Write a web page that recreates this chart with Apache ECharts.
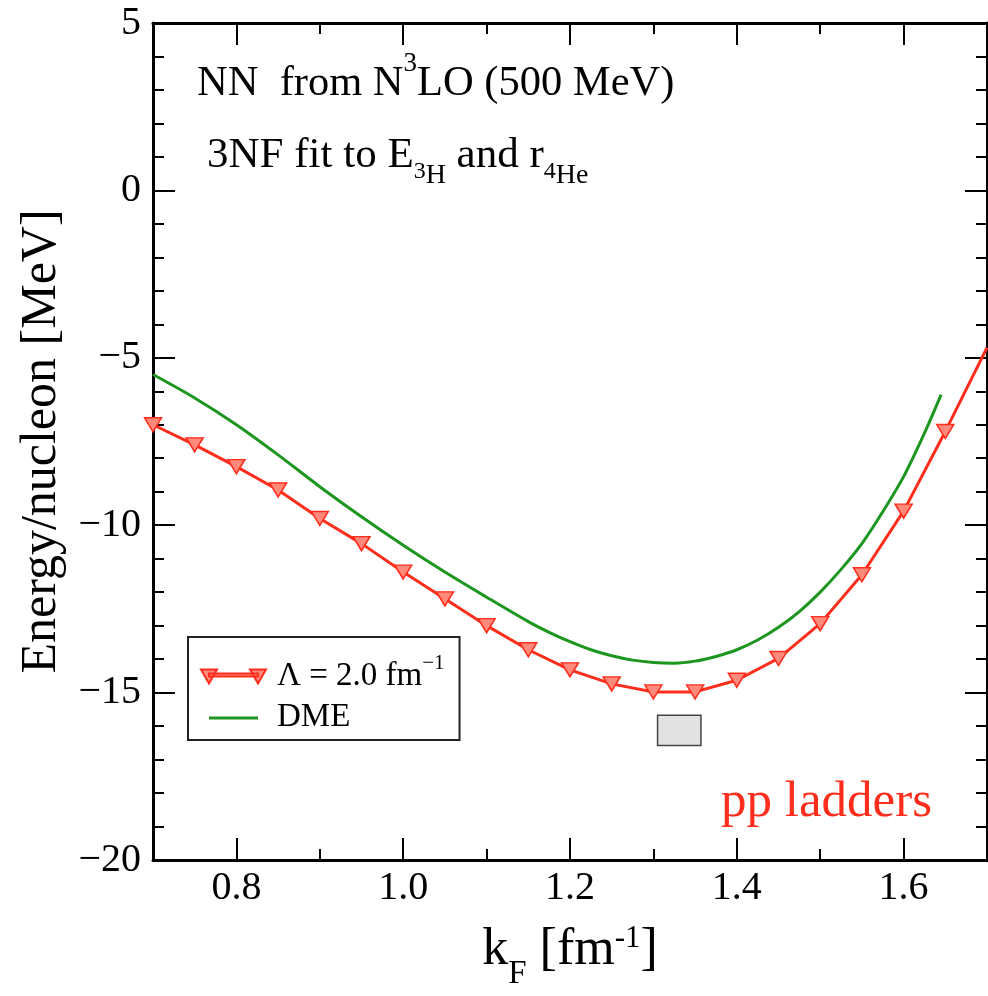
<!DOCTYPE html>
<html>
<head>
<meta charset="utf-8">
<script src="https://cdn.jsdelivr.net/npm/echarts@6/dist/echarts.min.js"></script>
<style>
html, body { margin: 0; padding: 0; background: #fff; }
#chart { width: 988px; height: 996px; }
</style>
</head>
<body>
<div id="chart"></div>
<script>
// pp ladders, Lambda = 2.0 fm^-1 (symbols every 0.05)
var kf_ladder = [0.70, 0.75, 0.80, 0.85, 0.90, 0.95, 1.00, 1.05, 1.10, 1.15, 1.20,
                 1.25, 1.30, 1.35, 1.40, 1.45, 1.50, 1.55, 1.60, 1.65, 1.70];
var e_ladder = [-7.0, -7.6, -8.25, -8.95, -9.8, -10.55, -11.4, -12.2, -13.0, -13.72, -14.32,
                -14.74, -14.98, -14.98, -14.63, -13.98, -12.94, -11.48, -9.58, -7.2, -4.7];
// DME curve
var kf_dme = [0.70, 0.75, 0.80, 0.85, 0.90, 0.95, 1.00, 1.05, 1.10, 1.15, 1.175, 1.20,
              1.225, 1.25, 1.275, 1.30, 1.325, 1.35, 1.375, 1.40, 1.425, 1.45, 1.475,
              1.50, 1.525, 1.55, 1.575, 1.60, 1.625, 1.645];
var e_dme = [-5.5, -6.2, -7.0, -7.9, -8.85, -9.75, -10.6, -11.4, -12.15, -12.88, -13.2, -13.48,
             -13.72, -13.9, -14.03, -14.1, -14.12, -14.06, -13.92, -13.72, -13.43, -13.05, -12.58,
             -12.0, -11.32, -10.55, -9.6, -8.55, -7.25, -6.1];
// empirical saturation box
var box_kf = [1.305, 1.357];
var box_e = [-16.58, -15.68];
// ticks
var xMajor = [0.8, 1.0, 1.2, 1.4, 1.6];
var xMinor = [0.9, 1.1, 1.3, 1.5];

var fontsty = 'Liberation Serif';
var red = '#ff2d1c';
var green = '#1c961e';

var myChart = echarts.init(document.getElementById('chart'));

function pairs(xs, ys) {
  var out = [];
  for (var i = 0; i < xs.length; i++) out.push([xs[i], ys[i]]);
  return out;
}
var ladderData = pairs(kf_ladder, e_ladder).map(function (p, i) {
  // last point sits on the frame edge: no symbol drawn there
  return i === kf_ladder.length - 1 ? { value: p, symbol: 'none' } : { value: p };
});

function xAxisDef(pos, ticks, len, withLine, withLabel) {
  return {
    type: 'value', position: pos, min: 0.7, max: 1.7, interval: 0.1,
    axisLine: { show: withLine, onZero: false, lineStyle: { color: '#000', width: 3 } },
    axisTick: { show: true, inside: true, length: len, customValues: ticks,
                lineStyle: { color: '#000', width: 2 } },
    axisLabel: withLabel ? {
      show: true, customValues: xMajor, margin: 8,
      fontFamily: fontsty, fontSize: 40, color: '#000',
      formatter: function (v) { return v.toFixed(1); }
    } : { show: false },
    splitLine: { show: false }
  };
}

function yAxisDef(pos, withLabel) {
  return {
    type: 'value', position: pos, min: -20, max: 5, interval: 5,
    axisLine: { show: true, onZero: false, lineStyle: { color: '#000', width: 3 } },
    axisTick: { show: true, inside: true, length: 22, lineStyle: { color: '#000', width: 2 } },
    minorTick: { show: true, splitNumber: 5, length: 11, lineStyle: { color: '#000', width: 2 } },
    axisLabel: withLabel ? {
      show: true, margin: 12, fontFamily: fontsty, fontSize: 40, color: '#000',
      formatter: function (v) { return v < 0 ? '\u2212' + Math.abs(v) : String(v); }
    } : { show: false },
    splitLine: { show: false }
  };
}

var xBottom = xAxisDef('bottom', xMajor, 22, true, true);
xBottom.name = 'k{sub|F} [fm{sup|-1}]';
xBottom.nameLocation = 'middle';
xBottom.nameGap = 50;
xBottom.nameTextStyle = {
  fontFamily: fontsty, fontSize: 52, color: '#000',
  rich: {
    sub: { fontFamily: fontsty, fontSize: 33, color: '#000', padding: [48, 0, 0, 0] },
    sup: { fontFamily: fontsty, fontSize: 31, color: '#000', padding: [0, 0, 24, 0] }
  }
};

var yLeft = yAxisDef('left', true);
yLeft.name = 'Energy/nucleon [MeV]';
yLeft.nameLocation = 'middle';
yLeft.nameGap = 86;
yLeft.nameTextStyle = { fontFamily: fontsty, fontSize: 50, color: '#000' };

var option = {
  animation: false,
  backgroundColor: '#fff',
  grid: { left: 153, right: 1, top: 23, bottom: 130, containLabel: false },
  title: [
    {
      text: 'NN  from N{sup|3}LO (500 MeV)', left: 197, top: 50, padding: 0,
      textStyle: {
        fontFamily: fontsty, fontSize: 42.5, fontWeight: 'normal', color: '#000',
        rich: {
          sup: { fontFamily: fontsty, fontSize: 27, color: '#000', padding: [0, 0, 40, 0] }
        }
      }
    },
    {
      text: '3NF fit to E{s1|3}{s2|H} and r{s1|4}{s2|He}', left: 207, top: 122, padding: 0,
      textStyle: {
        fontFamily: fontsty, fontSize: 43, fontWeight: 'normal', color: '#000',
        rich: {
          s1: { fontFamily: fontsty, fontSize: 24, color: '#000', padding: [31, 0, 0, 0] },
          s2: { fontFamily: fontsty, fontSize: 28, color: '#000', padding: [40, 0, 0, 0] }
        }
      }
    },
    {
      text: 'pp ladders', left: 721, top: 777, padding: 0,
      textStyle: { fontFamily: fontsty, fontSize: 51, fontWeight: 'normal', color: red }
    }
  ],
  legend: {
    orient: 'vertical', left: 188, top: 637,
    data: [
      { name: 'Λ = 2.0 fm-1', icon: 'path://M0,0H16L8,14ZM49,0H65L57,14ZM8,4H57V7H8Z' },
      { name: 'DME', icon: 'path://M0,0M8,6H57V9H8ZM65,14' }
    ],
    itemWidth: 65, itemHeight: 14, itemGap: 8,
    padding: [16, 15, 6, 12],
    borderColor: '#222', borderWidth: 2, backgroundColor: '#fff',
    textStyle: {
      fontFamily: fontsty, fontSize: 33, color: '#000', padding: [0, 0, 0, 6],
      rich: {
        t: { fontFamily: fontsty, fontSize: 33, color: '#000' },
        sup: { fontFamily: fontsty, fontSize: 21, color: '#000', padding: [0, 0, 26, 0] }
      }
    },
    formatter: function (name) {
      if (name === 'DME') return '{t|DME}';
      return '{t|Λ = 2.0 fm}{sup|\u22121}';
    }
  },
  xAxis: [
    xBottom,
    xAxisDef('bottom', xMinor, 11, false, false),
    xAxisDef('top', xMajor, 22, true, false),
    xAxisDef('top', xMinor, 11, false, false)
  ],
  yAxis: [
    yLeft,
    yAxisDef('right', false)
  ],
  series: [
    {
      name: 'DME', type: 'line', xAxisIndex: 0, yAxisIndex: 0,
      data: pairs(kf_dme, e_dme), smooth: 0.3,
      symbol: 'none', showSymbol: false,
      itemStyle: { color: green },
      lineStyle: { color: green, width: 3 },
      z: 3
    },
    {
      name: 'Λ = 2.0 fm-1', type: 'line', xAxisIndex: 0, yAxisIndex: 0,
      data: ladderData,
      symbol: 'triangle', symbolRotate: 180, symbolSize: [17, 14],
      itemStyle: { color: '#ff8a7c', borderColor: red, borderWidth: 1.5 },
      lineStyle: { color: red, width: 3 },
      z: 4,
      markArea: {
        silent: true,
        itemStyle: { color: '#e2e2e2', borderColor: '#444', borderWidth: 1.5 },
        data: [[{ coord: [box_kf[0], box_e[1]] }, { coord: [box_kf[1], box_e[0]] }]]
      }
    }
  ]
};

myChart.setOption(option);
</script>
</body>
</html>
